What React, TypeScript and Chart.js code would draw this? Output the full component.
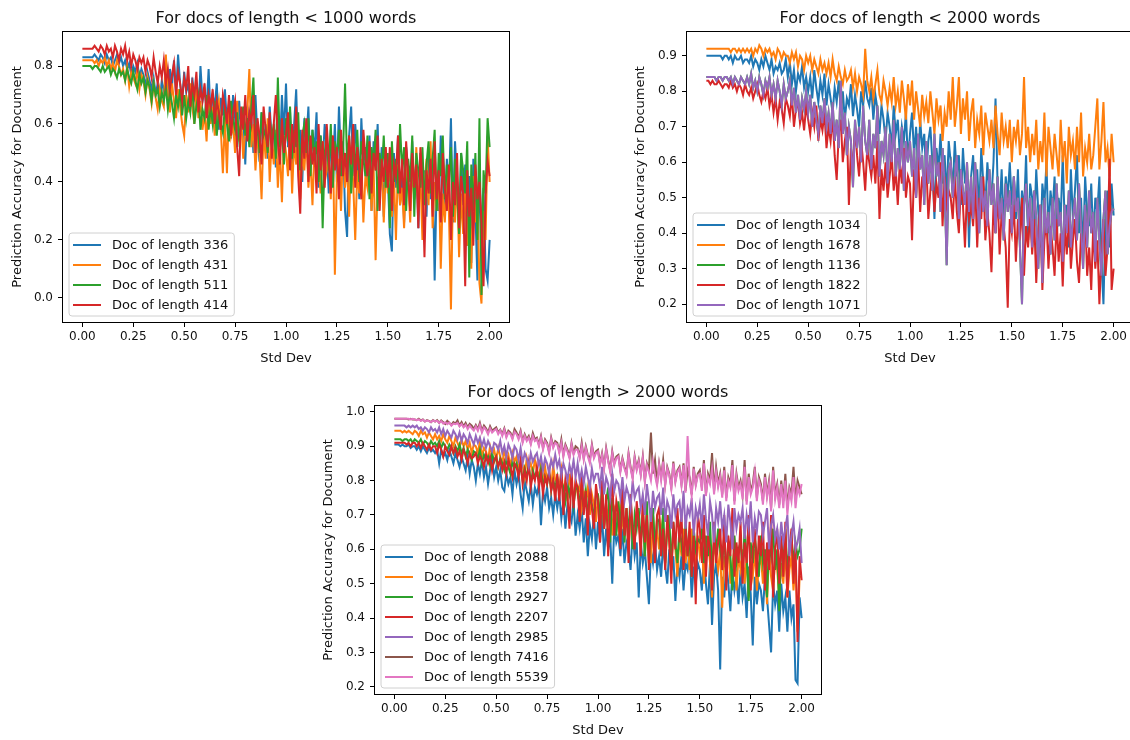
import React, { useEffect, useRef } from "react";
import { Chart, registerables } from "chart.js";

Chart.register(...registerables);

// ---------- data ----------
const stdDev = [
  0.0, 0.01, 0.02, 0.03, 0.04, 0.05, 0.06, 0.07, 0.08, 0.09,
  0.1, 0.11, 0.12, 0.13, 0.14, 0.15, 0.16, 0.17, 0.18, 0.19,
  0.2, 0.21, 0.22, 0.23, 0.24, 0.25, 0.26, 0.27, 0.28, 0.29,
  0.3, 0.31, 0.32, 0.33, 0.34, 0.35, 0.36, 0.37, 0.38, 0.39,
  0.4, 0.41, 0.42, 0.43, 0.44, 0.45, 0.46, 0.47, 0.48, 0.49,
  0.5, 0.51, 0.52, 0.53, 0.54, 0.55, 0.56, 0.57, 0.58, 0.59,
  0.6, 0.61, 0.62, 0.63, 0.64, 0.65, 0.66, 0.67, 0.68, 0.69,
  0.7, 0.71, 0.72, 0.73, 0.74, 0.75, 0.76, 0.77, 0.78, 0.79,
  0.8, 0.81, 0.82, 0.83, 0.84, 0.85, 0.86, 0.87, 0.88, 0.89,
  0.9, 0.91, 0.92, 0.93, 0.94, 0.95, 0.96, 0.97, 0.98, 0.99,
  1.0, 1.01, 1.02, 1.03, 1.04, 1.05, 1.06, 1.07, 1.08, 1.09,
  1.1, 1.11, 1.12, 1.13, 1.14, 1.15, 1.16, 1.17, 1.18, 1.19,
  1.2, 1.21, 1.22, 1.23, 1.24, 1.25, 1.26, 1.27, 1.28, 1.29,
  1.3, 1.31, 1.32, 1.33, 1.34, 1.35, 1.36, 1.37, 1.38, 1.39,
  1.4, 1.41, 1.42, 1.43, 1.44, 1.45, 1.46, 1.47, 1.48, 1.49,
  1.5, 1.51, 1.52, 1.53, 1.54, 1.55, 1.56, 1.57, 1.58, 1.59,
  1.6, 1.61, 1.62, 1.63, 1.64, 1.65, 1.66, 1.67, 1.68, 1.69,
  1.7, 1.71, 1.72, 1.73, 1.74, 1.75, 1.76, 1.77, 1.78, 1.79,
  1.8, 1.81, 1.82, 1.83, 1.84, 1.85, 1.86, 1.87, 1.88, 1.89,
  1.9, 1.91, 1.92, 1.93, 1.94, 1.95, 1.96, 1.97, 1.98, 1.99,
  2.0,
];

const xTicks = [0, 0.25, 0.5, 0.75, 1.0, 1.25, 1.5, 1.75, 2.0];
const yTicks1 = [0, 0.2, 0.4, 0.6, 0.8];
const yTicks2 = [0.2, 0.3, 0.4, 0.5, 0.6, 0.7, 0.8, 0.9];
const yTicks3 = [0.2, 0.3, 0.4, 0.5, 0.6, 0.7, 0.8, 0.9, 1.0];

// chart 1: docs < 1000 words
const acc336 = [
  0.83, 0.83, 0.83, 0.83, 0.83, 0.83, 0.84, 0.83, 0.82, 0.84,
  0.83, 0.81, 0.84, 0.82, 0.83, 0.8, 0.82, 0.84, 0.81, 0.83,
  0.8, 0.82, 0.79, 0.81, 0.77, 0.8, 0.78, 0.81, 0.76, 0.79,
  0.77, 0.73, 0.78, 0.75, 0.72, 0.76, 0.7, 0.74, 0.68, 0.75,
  0.71, 0.76, 0.69, 0.79, 0.73, 0.82, 0.7, 0.84, 0.74, 0.68,
  0.78, 0.71, 0.74, 0.66, 0.76, 0.69, 0.73, 0.64, 0.8, 0.68,
  0.72, 0.65, 0.79, 0.62, 0.7, 0.66, 0.74, 0.58, 0.69, 0.63,
  0.72, 0.6, 0.67, 0.55, 0.7, 0.62, 0.52, 0.68, 0.58, 0.64,
  0.46, 0.66, 0.58, 0.62, 0.5, 0.7, 0.55, 0.47, 0.64, 0.52,
  0.6, 0.48, 0.66, 0.54, 0.58, 0.45, 0.62, 0.5, 0.7, 0.56,
  0.74, 0.52, 0.64, 0.44, 0.6, 0.72, 0.48, 0.58, 0.4, 0.62,
  0.54, 0.66, 0.42, 0.58, 0.5, 0.64, 0.38, 0.56, 0.46, 0.6,
  0.52, 0.36, 0.58, 0.44, 0.6, 0.4, 0.66, 0.48, 0.54, 0.3,
  0.21, 0.56, 0.66, 0.42, 0.6, 0.5, 0.34, 0.62, 0.46, 0.52,
  0.4, 0.56, 0.3, 0.54, 0.44, 0.6, 0.36, 0.52, 0.28, 0.48,
  0.42, 0.22, 0.16, 0.5, 0.38, 0.56, 0.32, 0.46, 0.26, 0.52,
  0.44, 0.3, 0.54, 0.36, 0.48, 0.24, 0.5, 0.38, 0.44, 0.28,
  0.52, 0.34, 0.46, 0.06, 0.4, 0.3, 0.56, 0.42, 0.28, 0.48,
  0.36, 0.62, 0.26, 0.54, 0.4, 0.22, 0.5, 0.32, 0.46, 0.18,
  0.42, 0.12, 0.48, 0.3, 0.06, 0.44, 0.2, 0.38, 0.1, 0.06,
  0.2,
];
const acc431 = [
  0.82, 0.82, 0.82, 0.82, 0.82, 0.82, 0.81, 0.82, 0.8, 0.82,
  0.81, 0.83, 0.8, 0.82, 0.79, 0.81, 0.78, 0.82, 0.8, 0.77,
  0.79, 0.75, 0.8, 0.73, 0.78, 0.76, 0.74, 0.79, 0.72, 0.77,
  0.75, 0.7, 0.76, 0.72, 0.67, 0.74, 0.69, 0.65, 0.72, 0.68,
  0.66, 0.84, 0.7, 0.64, 0.74, 0.68, 0.62, 0.72, 0.66, 0.6,
  0.56, 0.7, 0.64, 0.74, 0.66, 0.6, 0.72, 0.62, 0.68, 0.58,
  0.64, 0.54, 0.7, 0.6, 0.66, 0.56, 0.63, 0.68, 0.58, 0.43,
  0.62, 0.43, 0.66, 0.56, 0.6, 0.5, 0.68, 0.54, 0.62, 0.48,
  0.58, 0.64, 0.79, 0.52, 0.6, 0.44, 0.56, 0.5, 0.34, 0.58,
  0.48, 0.62, 0.4, 0.55, 0.46, 0.58, 0.38, 0.52, 0.33, 0.56,
  0.5, 0.42, 0.6, 0.36, 0.54, 0.46, 0.58, 0.34, 0.5, 0.44,
  0.56, 0.38, 0.48, 0.32, 0.52, 0.42, 0.46, 0.36, 0.54, 0.4,
  0.44, 0.5, 0.34, 0.56, 0.08, 0.42, 0.48, 0.3, 0.52, 0.38,
  0.46, 0.28, 0.5, 0.4, 0.2, 0.44, 0.36, 0.48, 0.26, 0.42,
  0.38, 0.52, 0.3, 0.46, 0.13, 0.4, 0.34, 0.48, 0.26, 0.44,
  0.36, 0.48, 0.28, 0.42, 0.2, 0.46, 0.32, 0.38, 0.24, 0.44,
  0.4, 0.26, 0.46, 0.34, 0.52, 0.3, 0.42, 0.2, 0.38, 0.48,
  0.32, 0.54, 0.24, 0.4, 0.3, 0.44, 0.1, 0.36, 0.26, 0.42,
  0.3, -0.04, 0.38, 0.26, 0.42, 0.14, 0.36, 0.22, 0.4, 0.18,
  0.34, 0.1, 0.42, 0.26, 0.36, 0.05, -0.02, 0.3, 0.2, 0.56,
  0.4,
];
const acc511 = [
  0.8, 0.8, 0.8, 0.8, 0.8, 0.79, 0.8, 0.8, 0.79, 0.78,
  0.8, 0.78, 0.79, 0.8, 0.77, 0.79, 0.78, 0.76, 0.79, 0.77,
  0.78, 0.75, 0.79, 0.76, 0.74, 0.78, 0.75, 0.72, 0.77, 0.74,
  0.76, 0.71, 0.75, 0.73, 0.68, 0.74, 0.7, 0.72, 0.66, 0.71,
  0.68, 0.73, 0.65, 0.71, 0.67, 0.62, 0.7, 0.66, 0.72, 0.63,
  0.7, 0.62, 0.68, 0.64, 0.74, 0.6, 0.66, 0.7, 0.58, 0.65,
  0.62, 0.7, 0.58, 0.66, 0.6, 0.68, 0.56, 0.64, 0.6, 0.57,
  0.66, 0.6, 0.54, 0.68, 0.62, 0.58, 0.64, 0.55, 0.6, 0.66,
  0.56, 0.62, 0.52, 0.66, 0.76, 0.54, 0.6, 0.5, 0.64, 0.56,
  0.58, 0.5, 0.62, 0.55, 0.6, 0.48, 0.76, 0.52, 0.58, 0.46,
  0.62, 0.54, 0.66, 0.48, 0.58, 0.52, 0.64, 0.44, 0.56, 0.6,
  0.5, 0.62, 0.42, 0.58, 0.48, 0.54, 0.4, 0.56, 0.24, 0.5,
  0.56, 0.44, 0.6, 0.38, 0.54, 0.48, 0.58, 0.42, 0.5, 0.74,
  0.46, 0.56, 0.36, 0.52, 0.44, 0.58, 0.4, 0.54, 0.48, 0.42,
  0.56, 0.34, 0.52, 0.46, 0.58, 0.3, 0.5, 0.42, 0.56, 0.38,
  0.5, 0.24, 0.54, 0.4, 0.48, 0.36, 0.6, 0.44, 0.52, 0.3,
  0.48, 0.4, 0.56, 0.28, 0.5, 0.44, 0.38, 0.52, 0.32, 0.46,
  0.54, 0.36, 0.48, 0.58, 0.3, 0.5, 0.42, 0.56, 0.34, 0.46,
  0.4, 0.52, 0.28, 0.48, 0.38, 0.22, 0.5, 0.44, 0.36, 0.54,
  0.07, 0.46, 0.3, 0.5, 0.2, 0.62, 0.01, 0.44, 0.36, 0.62,
  0.52,
];
const acc414 = [
  0.86, 0.86, 0.86, 0.86, 0.86, 0.86, 0.87, 0.86, 0.85, 0.87,
  0.86, 0.84, 0.87, 0.85, 0.86, 0.83, 0.87, 0.85, 0.82, 0.86,
  0.84, 0.87, 0.82, 0.85, 0.8, 0.84, 0.82, 0.79, 0.83, 0.81,
  0.83, 0.78, 0.82, 0.8, 0.76, 0.83, 0.78, 0.74, 0.8, 0.76,
  0.82, 0.74, 0.79, 0.72, 0.77, 0.81, 0.7, 0.78, 0.74, 0.68,
  0.76, 0.72, 0.8, 0.66, 0.74, 0.7, 0.78, 0.64, 0.72, 0.68,
  0.74, 0.62, 0.7, 0.66, 0.72, 0.6, 0.68, 0.64, 0.58, 0.7,
  0.66, 0.6, 0.7, 0.56, 0.64, 0.68, 0.52, 0.42, 0.66, 0.58,
  0.7, 0.54, 0.64, 0.6, 0.7, 0.5, 0.62, 0.56, 0.46, 0.66,
  0.58, 0.52, 0.64, 0.48, 0.6, 0.7, 0.54, 0.46, 0.62, 0.5,
  0.56, 0.64, 0.44, 0.6, 0.5, 0.66, 0.42, 0.29, 0.58, 0.48,
  0.62, 0.4, 0.56, 0.46, 0.52, 0.36, 0.6, 0.44, 0.54, 0.38,
  0.6, 0.48, 0.36, 0.56, 0.44, 0.52, 0.34, 0.58, 0.42, 0.5,
  0.4, 0.56, 0.46, 0.6, 0.38, 0.52, 0.44, 0.34, 0.58, 0.48,
  0.42, 0.54, 0.36, 0.5, 0.44, 0.56, 0.3, 0.48, 0.4, 0.52,
  0.38, 0.52, 0.3, 0.46, 0.42, 0.56, 0.36, 0.48, 0.32, 0.54,
  0.42, 0.3, 0.5, 0.38, 0.46, 0.24, 0.52, 0.4, 0.14, 0.44,
  0.36, 0.48, 0.28, 0.54, 0.34, 0.44, 0.26, 0.5, 0.38, 0.3,
  0.46, 0.2, 0.4, 0.32, 0.5, 0.24, 0.42, 0.36, 0.04, 0.44,
  0.28, 0.38, 0.18, 0.46, 0.34, 0.4, 0.26, 0.04, 0.36, 0.47,
  0.42,
];

// chart 2: docs < 2000 words
const acc1034 = [
  0.9, 0.9, 0.9, 0.9, 0.9, 0.9, 0.9, 0.9, 0.89, 0.9,
  0.9, 0.89, 0.9, 0.88, 0.9, 0.89, 0.89, 0.9, 0.88, 0.89,
  0.89, 0.88, 0.9, 0.87, 0.89, 0.88, 0.86, 0.89, 0.87, 0.9,
  0.88, 0.86, 0.89, 0.85, 0.87, 0.86, 0.88, 0.85, 0.86, 0.89,
  0.84, 0.88, 0.82, 0.86, 0.8, 0.85, 0.83, 0.87, 0.81, 0.84,
  0.8, 0.84, 0.78, 0.86, 0.81, 0.77, 0.83, 0.79, 0.85, 0.76,
  0.82, 0.78, 0.74, 0.81, 0.77, 0.83, 0.75, 0.8, 0.72, 0.78,
  0.76, 0.82, 0.73, 0.79, 0.75, 0.7, 0.8, 0.76, 0.83, 0.78,
  0.76, 0.81, 0.72, 0.79, 0.75, 0.68, 0.76, 0.72, 0.66, 0.74,
  0.7, 0.64, 0.76, 0.68, 0.72, 0.62, 0.7, 0.66, 0.74, 0.6,
  0.68, 0.74, 0.62, 0.7, 0.58, 0.72, 0.64, 0.68, 0.56, 0.66,
  0.7, 0.6, 0.44, 0.64, 0.58, 0.68, 0.54, 0.62, 0.5, 0.66,
  0.6, 0.52, 0.66, 0.56, 0.62, 0.48, 0.64, 0.54, 0.58, 0.36,
  0.56, 0.62, 0.5, 0.58, 0.46, 0.64, 0.54, 0.48, 0.6, 0.52,
  0.5, 0.6, 0.78, 0.54, 0.46, 0.58, 0.42, 0.56, 0.5, 0.6,
  0.48, 0.56, 0.44, 0.58, 0.4, 0.52, 0.46, 0.62, 0.38, 0.54,
  0.5, 0.42, 0.58, 0.46, 0.36, 0.54, 0.48, 0.6, 0.4, 0.52,
  0.46, 0.56, 0.38, 0.5, 0.44, 0.62, 0.42, 0.48, 0.36, 0.58,
  0.44, 0.52, 0.62, 0.4, 0.5, 0.34, 0.56, 0.46, 0.42, 0.54,
  0.38, 0.5, 0.46, 0.56, 0.32, 0.2, 0.44, 0.52, 0.36, 0.54,
  0.45,
];
const acc1678 = [
  0.92, 0.92, 0.92, 0.92, 0.92, 0.92, 0.92, 0.92, 0.92, 0.92,
  0.92, 0.92, 0.91, 0.92, 0.92, 0.91, 0.92, 0.91, 0.92, 0.91,
  0.92, 0.91, 0.92, 0.9, 0.92, 0.91, 0.93, 0.92, 0.9, 0.92,
  0.91, 0.92, 0.9, 0.91, 0.89, 0.92, 0.91, 0.89, 0.91, 0.9,
  0.9, 0.88, 0.91, 0.89, 0.91, 0.87, 0.9, 0.89, 0.86, 0.9,
  0.88, 0.9, 0.86, 0.89, 0.87, 0.85, 0.89, 0.86, 0.88, 0.85,
  0.88, 0.84, 0.89, 0.85, 0.83, 0.87, 0.84, 0.82, 0.86, 0.83,
  0.84, 0.86, 0.81, 0.85, 0.8, 0.84, 0.82, 0.79, 0.92, 0.83,
  0.8, 0.84, 0.78, 0.82, 0.86, 0.79, 0.77, 0.83, 0.8, 0.76,
  0.81, 0.77, 0.84, 0.76, 0.8, 0.74, 0.83, 0.78, 0.72, 0.82,
  0.76, 0.83, 0.72, 0.8, 0.75, 0.7, 0.79, 0.73, 0.77, 0.71,
  0.8, 0.74, 0.68, 0.78, 0.72, 0.76, 0.66, 0.74, 0.7, 0.8,
  0.72, 0.84, 0.7, 0.76, 0.84, 0.68, 0.78, 0.72, 0.8, 0.66,
  0.74, 0.78, 0.64, 0.72, 0.68, 0.76, 0.62, 0.74, 0.7, 0.66,
  0.72, 0.64, 0.76, 0.68, 0.62, 0.74, 0.66, 0.7, 0.64, 0.72,
  0.6, 0.7, 0.66, 0.72, 0.62, 0.68, 0.84, 0.64, 0.7, 0.6,
  0.68, 0.62, 0.72, 0.58, 0.66, 0.6, 0.74, 0.56, 0.7, 0.64,
  0.58, 0.68, 0.62, 0.56, 0.72, 0.6, 0.66, 0.54, 0.7, 0.62,
  0.66, 0.58, 0.7, 0.6, 0.74, 0.56, 0.64, 0.6, 0.68, 0.58,
  0.62, 0.7, 0.78, 0.58, 0.66, 0.77, 0.6, 0.64, 0.56, 0.68,
  0.6,
];
const acc1822 = [
  0.83, 0.83, 0.82, 0.83, 0.82, 0.82, 0.83, 0.82, 0.81, 0.82,
  0.82, 0.81, 0.83, 0.81, 0.82, 0.8, 0.82, 0.81, 0.79, 0.82,
  0.8, 0.79, 0.81, 0.78, 0.8, 0.82, 0.79, 0.77, 0.8, 0.78,
  0.81, 0.76, 0.79, 0.74, 0.78, 0.72, 0.77, 0.75, 0.71, 0.78,
  0.76, 0.73, 0.79, 0.7, 0.75, 0.77, 0.71, 0.74, 0.69, 0.76,
  0.72, 0.68, 0.74, 0.7, 0.76, 0.66, 0.72, 0.69, 0.74, 0.64,
  0.7, 0.66, 0.73, 0.62, 0.55, 0.68, 0.72, 0.6, 0.66, 0.7,
  0.48, 0.64, 0.58, 0.7, 0.62, 0.56, 0.66, 0.6, 0.52, 0.64,
  0.6, 0.56, 0.62, 0.54, 0.66, 0.44, 0.58, 0.52, 0.6, 0.5,
  0.56, 0.62, 0.52, 0.58, 0.48, 0.6, 0.54, 0.64, 0.5, 0.56,
  0.54, 0.38, 0.58, 0.5, 0.62, 0.46, 0.56, 0.52, 0.6, 0.44,
  0.52, 0.58, 0.46, 0.54, 0.5, 0.6, 0.42, 0.56, 0.48, 0.52,
  0.5, 0.44, 0.56, 0.46, 0.4, 0.54, 0.48, 0.36, 0.52, 0.44,
  0.48, 0.42, 0.54, 0.36, 0.5, 0.44, 0.56, 0.38, 0.46, 0.4,
  0.29, 0.48, 0.4, 0.52, 0.34, 0.46, 0.42, 0.36, 0.19, 0.44,
  0.4, 0.48, 0.32, 0.44, 0.38, 0.5, 0.28, 0.42, 0.36, 0.46,
  0.34, 0.44, 0.26, 0.4, 0.48, 0.24, 0.38, 0.44, 0.3, 0.42,
  0.36, 0.28, 0.44, 0.32, 0.4, 0.25, 0.42, 0.34, 0.46, 0.3,
  0.38, 0.44, 0.32, 0.26, 0.4, 0.34, 0.46, 0.28, 0.36, 0.24,
  0.42, 0.3, 0.38, 0.2, 0.34, 0.44, 0.28, 0.36, 0.61, 0.24,
  0.3,
];
const acc1071 = [
  0.84, 0.84, 0.84, 0.84, 0.84, 0.83, 0.84, 0.84, 0.83, 0.84,
  0.84, 0.83, 0.84, 0.82, 0.84, 0.83, 0.82, 0.84, 0.83, 0.82,
  0.84, 0.82, 0.85, 0.81, 0.83, 0.8, 0.84, 0.82, 0.79, 0.83,
  0.81, 0.84, 0.79, 0.82, 0.78, 0.83, 0.8, 0.76, 0.82, 0.78,
  0.8, 0.83, 0.76, 0.81, 0.74, 0.79, 0.72, 0.78, 0.75, 0.8,
  0.74, 0.79, 0.7, 0.77, 0.72, 0.68, 0.76, 0.71, 0.78, 0.7,
  0.74, 0.68, 0.77, 0.66, 0.72, 0.64, 0.83, 0.68, 0.74, 0.62,
  0.7, 0.66, 0.53, 0.72, 0.64, 0.7, 0.6, 0.76, 0.66, 0.62,
  0.72, 0.58, 0.68, 0.64, 0.76, 0.56, 0.66, 0.62, 0.7, 0.54,
  0.68, 0.6, 0.72, 0.56, 0.64, 0.58, 0.7, 0.52, 0.66, 0.6,
  0.66, 0.56, 0.64, 0.5, 0.68, 0.58, 0.62, 0.48, 0.66, 0.54,
  0.62, 0.52, 0.68, 0.56, 0.6, 0.46, 0.64, 0.54, 0.31, 0.58,
  0.6, 0.5, 0.56, 0.62, 0.44, 0.58, 0.52, 0.48, 0.6, 0.46,
  0.56, 0.44, 0.6, 0.5, 0.4, 0.56, 0.46, 0.52, 0.42, 0.58,
  0.48, 0.54, 0.4, 0.56, 0.44, 0.5, 0.38, 0.54, 0.46, 0.52,
  0.4, 0.56, 0.46, 0.5, 0.36, 0.2, 0.48, 0.54, 0.42, 0.5,
  0.36, 0.52, 0.44, 0.3, 0.48, 0.26, 0.5, 0.4, 0.46, 0.34,
  0.5, 0.38, 0.54, 0.42, 0.46, 0.32, 0.48, 0.4, 0.52, 0.36,
  0.44, 0.5, 0.38, 0.54, 0.42, 0.3, 0.48, 0.36, 0.52, 0.4,
  0.46, 0.32, 0.5, 0.38, 0.28, 0.44, 0.52, 0.34, 0.42, 0.46,
  0.47,
];
// the 1136-word document's line lies entirely beneath the 1071 one in the picture
const acc1136 = acc1071;

// chart 3: docs > 2000 words
const acc2088 = [
  0.905, 0.905, 0.905, 0.9, 0.905, 0.9, 0.9, 0.905, 0.895, 0.9,
  0.9, 0.89, 0.9, 0.885, 0.9, 0.89, 0.88, 0.895, 0.885, 0.89,
  0.88, 0.89, 0.85, 0.89, 0.87, 0.88, 0.86, 0.89, 0.87, 0.85,
  0.88, 0.86, 0.84, 0.87, 0.85, 0.83, 0.87, 0.82, 0.86, 0.84,
  0.8, 0.85, 0.82, 0.86, 0.81, 0.84, 0.79, 0.83, 0.86, 0.81,
  0.84, 0.8, 0.83, 0.78, 0.77, 0.82, 0.79, 0.81, 0.76, 0.83,
  0.79, 0.82, 0.76, 0.72, 0.8, 0.77, 0.74, 0.79, 0.73, 0.78,
  0.76, 0.79, 0.67, 0.77, 0.74, 0.78, 0.72, 0.75, 0.7, 0.76,
  0.72, 0.76, 0.69, 0.74, 0.66, 0.73, 0.7, 0.68, 0.74, 0.64,
  0.7, 0.66, 0.72, 0.62, 0.69, 0.58, 0.67, 0.63, 0.7, 0.6,
  0.68, 0.62, 0.7, 0.58, 0.66, 0.6, 0.64, 0.5, 0.67, 0.62,
  0.64, 0.58, 0.66, 0.56, 0.62, 0.6, 0.54, 0.65, 0.58, 0.62,
  0.46, 0.62, 0.56, 0.6, 0.52, 0.44, 0.6, 0.56, 0.62, 0.54,
  0.58, 0.52, 0.62, 0.55, 0.5, 0.6, 0.54, 0.58, 0.45, 0.56,
  0.52, 0.58, 0.48, 0.56, 0.54, 0.6, 0.46, 0.55, 0.5, 0.56,
  0.54, 0.48, 0.58, 0.5, 0.44, 0.56, 0.38, 0.52, 0.56, 0.48,
  0.25, 0.52, 0.46, 0.56, 0.5, 0.42, 0.54, 0.48, 0.52, 0.44,
  0.54, 0.46, 0.5, 0.4, 0.55, 0.47, 0.32, 0.52, 0.44, 0.5,
  0.48, 0.42, 0.52, 0.46, 0.38, 0.3, 0.5, 0.44, 0.48, 0.36,
  0.5, 0.42, 0.46, 0.36, 0.48, 0.4, 0.44, 0.22, 0.21, 0.46,
  0.4,
];
const acc2358 = [
  0.945, 0.945, 0.945, 0.945, 0.94, 0.945, 0.94, 0.945, 0.94, 0.935,
  0.945, 0.94, 0.93, 0.945, 0.935, 0.94, 0.925, 0.94, 0.93, 0.92,
  0.935, 0.92, 0.93, 0.915, 0.935, 0.92, 0.91, 0.93, 0.915, 0.9,
  0.925, 0.91, 0.895, 0.92, 0.9, 0.915, 0.89, 0.91, 0.88, 0.905,
  0.9, 0.88, 0.915, 0.87, 0.895, 0.885, 0.86, 0.9, 0.875, 0.89,
  0.86, 0.895, 0.87, 0.85, 0.89, 0.86, 0.875, 0.84, 0.88, 0.855,
  0.87, 0.83, 0.86, 0.845, 0.81, 0.865, 0.835, 0.85, 0.82, 0.86,
  0.83, 0.81, 0.85, 0.79, 0.84, 0.8, 0.82, 0.78, 0.845, 0.8,
  0.81, 0.78, 0.83, 0.76, 0.8, 0.74, 0.82, 0.77, 0.75, 0.8,
  0.76, 0.79, 0.72, 0.77, 0.74, 0.78, 0.7, 0.76, 0.73, 0.68,
  0.76, 0.7, 0.74, 0.66, 0.73, 0.69, 0.76, 0.64, 0.72, 0.7,
  0.66, 0.73, 0.68, 0.64, 0.72, 0.6, 0.7, 0.66, 0.62, 0.7,
  0.68, 0.62, 0.72, 0.58, 0.66, 0.64, 0.56, 0.7, 0.62, 0.66,
  0.6, 0.67, 0.63, 0.56, 0.68, 0.62, 0.54, 0.66, 0.6, 0.52,
  0.64, 0.58, 0.66, 0.56, 0.62, 0.54, 0.66, 0.6, 0.56, 0.64,
  0.58, 0.62, 0.5, 0.6, 0.64, 0.56, 0.46, 0.62, 0.58, 0.54,
  0.6, 0.43, 0.58, 0.54, 0.62, 0.5, 0.56, 0.6, 0.48, 0.58,
  0.54, 0.6, 0.5, 0.58, 0.46, 0.56, 0.52, 0.6, 0.48, 0.55,
  0.58, 0.5, 0.56, 0.44, 0.6, 0.52, 0.48, 0.58, 0.54, 0.46,
  0.56, 0.5, 0.6, 0.46, 0.54, 0.58, 0.48, 0.56, 0.36, 0.52,
  0.52,
];
const acc2927 = [
  0.92, 0.92, 0.92, 0.92, 0.915, 0.92, 0.92, 0.915, 0.92, 0.91,
  0.92, 0.915, 0.91, 0.92, 0.905, 0.915, 0.91, 0.9, 0.915, 0.905,
  0.91, 0.9, 0.915, 0.895, 0.91, 0.9, 0.89, 0.905, 0.895, 0.88,
  0.9, 0.885, 0.905, 0.88, 0.895, 0.87, 0.89, 0.875, 0.86, 0.885,
  0.88, 0.865, 0.89, 0.85, 0.875, 0.86, 0.87, 0.845, 0.88, 0.855,
  0.87, 0.84, 0.865, 0.85, 0.83, 0.86, 0.84, 0.82, 0.855, 0.835,
  0.85, 0.82, 0.84, 0.8, 0.835, 0.81, 0.845, 0.79, 0.83, 0.81,
  0.82, 0.8, 0.835, 0.78, 0.81, 0.79, 0.825, 0.77, 0.8, 0.78,
  0.81, 0.76, 0.8, 0.78, 0.74, 0.79, 0.76, 0.8, 0.73, 0.775,
  0.78, 0.74, 0.76, 0.72, 0.77, 0.7, 0.75, 0.73, 0.69, 0.76,
  0.76, 0.68, 0.8, 0.66, 0.74, 0.78, 0.62, 0.75, 0.7, 0.64,
  0.74, 0.66, 0.78, 0.62, 0.72, 0.64, 0.76, 0.6, 0.7, 0.66,
  0.72, 0.62, 0.7, 0.58, 0.74, 0.56, 0.68, 0.72, 0.6, 0.69,
  0.68, 0.58, 0.72, 0.55, 0.66, 0.7, 0.54, 0.68, 0.62, 0.56,
  0.66, 0.62, 0.55, 0.68, 0.58, 0.64, 0.52, 0.66, 0.6, 0.63,
  0.62, 0.66, 0.56, 0.64, 0.58, 0.68, 0.54, 0.62, 0.6, 0.66,
  0.6, 0.56, 0.64, 0.52, 0.62, 0.58, 0.48, 0.64, 0.56, 0.6,
  0.62, 0.54, 0.66, 0.58, 0.45, 0.62, 0.56, 0.64, 0.58, 0.52,
  0.64, 0.56, 0.6, 0.46, 0.62, 0.58, 0.66, 0.54, 0.6, 0.42,
  0.62, 0.58, 0.66, 0.54, 0.6, 0.64, 0.56, 0.62, 0.58, 0.6,
  0.66,
];
const acc2207 = [
  0.91, 0.91, 0.91, 0.91, 0.91, 0.91, 0.905, 0.91, 0.9, 0.91,
  0.91, 0.9, 0.91, 0.895, 0.91, 0.9, 0.89, 0.905, 0.89, 0.9,
  0.9, 0.88, 0.905, 0.89, 0.87, 0.9, 0.885, 0.875, 0.9, 0.88,
  0.895, 0.87, 0.885, 0.86, 0.89, 0.875, 0.85, 0.88, 0.865, 0.87,
  0.88, 0.85, 0.87, 0.86, 0.84, 0.875, 0.85, 0.87, 0.83, 0.86,
  0.87, 0.84, 0.86, 0.83, 0.855, 0.82, 0.86, 0.84, 0.81, 0.85,
  0.84, 0.81, 0.86, 0.79, 0.83, 0.8, 0.85, 0.78, 0.82, 0.8,
  0.84, 0.78, 0.82, 0.76, 0.81, 0.79, 0.83, 0.77, 0.8, 0.74,
  0.82, 0.74, 0.84, 0.7, 0.8, 0.76, 0.66, 0.83, 0.72, 0.8,
  0.78, 0.68, 0.82, 0.7, 0.77, 0.64, 0.8, 0.72, 0.66, 0.79,
  0.74, 0.62, 0.8, 0.66, 0.76, 0.58, 0.72, 0.82, 0.64, 0.74,
  0.7, 0.6, 0.78, 0.64, 0.72, 0.56, 0.76, 0.66, 0.6, 0.74,
  0.68, 0.58, 0.74, 0.62, 0.7, 0.54, 0.72, 0.64, 0.56, 0.7,
  0.72, 0.58, 0.66, 0.54, 0.7, 0.62, 0.5, 0.68, 0.6, 0.72,
  0.62, 0.7, 0.54, 0.66, 0.58, 0.68, 0.52, 0.64, 0.44, 0.7,
  0.66, 0.56, 0.7, 0.52, 0.64, 0.6, 0.48, 0.68, 0.56, 0.62,
  0.66, 0.54, 0.7, 0.48, 0.64, 0.58, 0.72, 0.52, 0.62, 0.56,
  0.68, 0.5, 0.62, 0.56, 0.7, 0.48, 0.6, 0.66, 0.52, 0.64,
  0.58, 0.68, 0.48, 0.62, 0.54, 0.7, 0.46, 0.6, 0.66, 0.5,
  0.64, 0.52, 0.68, 0.46, 0.6, 0.66, 0.5, 0.62, 0.33, 0.58,
  0.51,
];
const acc2985 = [
  0.96, 0.96, 0.96, 0.96, 0.96, 0.96, 0.955, 0.96, 0.955, 0.96,
  0.955, 0.96, 0.95, 0.955, 0.945, 0.955, 0.95, 0.94, 0.955, 0.945,
  0.95, 0.94, 0.955, 0.935, 0.95, 0.93, 0.945, 0.935, 0.925, 0.945,
  0.935, 0.92, 0.94, 0.915, 0.935, 0.925, 0.91, 0.935, 0.92, 0.905,
  0.93, 0.91, 0.925, 0.9, 0.92, 0.895, 0.915, 0.9, 0.885, 0.91,
  0.905, 0.89, 0.915, 0.88, 0.9, 0.87, 0.905, 0.89, 0.865, 0.9,
  0.89, 0.86, 0.895, 0.85, 0.88, 0.865, 0.84, 0.88, 0.855, 0.87,
  0.88, 0.845, 0.87, 0.83, 0.865, 0.85, 0.82, 0.86, 0.84, 0.875,
  0.84, 0.86, 0.815, 0.85, 0.83, 0.8, 0.845, 0.82, 0.86, 0.81,
  0.85, 0.8, 0.83, 0.79, 0.84, 0.81, 0.78, 0.835, 0.8, 0.82,
  0.82, 0.78, 0.84, 0.76, 0.81, 0.79, 0.75, 0.82, 0.77, 0.8,
  0.79, 0.75, 0.81, 0.74, 0.78, 0.76, 0.72, 0.8, 0.75, 0.77,
  0.78, 0.72, 0.76, 0.7, 0.79, 0.74, 0.68, 0.77, 0.72, 0.75,
  0.76, 0.7, 0.78, 0.68, 0.74, 0.72, 0.66, 0.76, 0.7, 0.73,
  0.74, 0.68, 0.77, 0.66, 0.72, 0.7, 0.75, 0.64, 0.72, 0.69,
  0.73, 0.66, 0.76, 0.69, 0.64, 0.74, 0.7, 0.62, 0.72, 0.68,
  0.74, 0.66, 0.7, 0.62, 0.73, 0.68, 0.6, 0.72, 0.66, 0.7,
  0.68, 0.72, 0.63, 0.7, 0.66, 0.74, 0.62, 0.69, 0.65, 0.71,
  0.7, 0.64, 0.68, 0.72, 0.6, 0.67, 0.7, 0.63, 0.66, 0.6,
  0.68, 0.62, 0.66, 0.7, 0.58, 0.64, 0.68, 0.6, 0.62, 0.66,
  0.56,
];
const acc7416 = [
  0.98, 0.98, 0.98, 0.98, 0.98, 0.98, 0.98, 0.978, 0.98, 0.978,
  0.978, 0.976, 0.98, 0.975, 0.978, 0.972, 0.976, 0.974, 0.97, 0.976,
  0.972, 0.976, 0.968, 0.975, 0.97, 0.965, 0.974, 0.968, 0.962, 0.97,
  0.966, 0.975, 0.96, 0.97, 0.958, 0.968, 0.955, 0.965, 0.96, 0.95,
  0.962, 0.95, 0.968, 0.945, 0.96, 0.952, 0.94, 0.958, 0.945, 0.95,
  0.955, 0.94, 0.948, 0.935, 0.952, 0.93, 0.945, 0.94, 0.925, 0.95,
  0.94, 0.925, 0.945, 0.915, 0.935, 0.92, 0.93, 0.91, 0.938, 0.92,
  0.925, 0.905, 0.93, 0.895, 0.92, 0.91, 0.885, 0.925, 0.9, 0.915,
  0.91, 0.885, 0.92, 0.875, 0.905, 0.89, 0.87, 0.91, 0.88, 0.9,
  0.895, 0.87, 0.91, 0.865, 0.9, 0.875, 0.86, 0.905, 0.87, 0.885,
  0.89, 0.85, 0.88, 0.84, 0.895, 0.86, 0.83, 0.885, 0.85, 0.87,
  0.875, 0.83, 0.865, 0.84, 0.82, 0.88, 0.84, 0.81, 0.87, 0.835,
  0.86, 0.82, 0.87, 0.8, 0.85, 0.83, 0.94, 0.82, 0.86, 0.79,
  0.85, 0.81, 0.86, 0.79, 0.84, 0.82, 0.78, 0.855, 0.8, 0.83,
  0.84, 0.79, 0.85, 0.77, 0.83, 0.81, 0.76, 0.84, 0.79, 0.82,
  0.83, 0.78, 0.86, 0.76, 0.82, 0.8, 0.88, 0.77, 0.84, 0.79,
  0.82, 0.76, 0.84, 0.75, 0.81, 0.79, 0.86, 0.74, 0.82, 0.78,
  0.8, 0.76, 0.86, 0.74, 0.82, 0.77, 0.79, 0.84, 0.75, 0.81,
  0.79, 0.74, 0.82, 0.76, 0.8, 0.72, 0.84, 0.76, 0.79, 0.73,
  0.8, 0.74, 0.82, 0.72, 0.78, 0.76, 0.84, 0.74, 0.8, 0.78,
  0.76,
];
const acc5539 = [
  0.98, 0.98, 0.98, 0.98, 0.98, 0.98, 0.98, 0.98, 0.978, 0.98,
  0.978, 0.976, 0.978, 0.974, 0.977, 0.972, 0.975, 0.973, 0.97, 0.975,
  0.972, 0.974, 0.968, 0.973, 0.966, 0.97, 0.964, 0.969, 0.96, 0.966,
  0.964, 0.968, 0.958, 0.965, 0.955, 0.962, 0.95, 0.96, 0.952, 0.946,
  0.958, 0.945, 0.962, 0.94, 0.955, 0.948, 0.935, 0.952, 0.94, 0.946,
  0.95, 0.935, 0.946, 0.93, 0.948, 0.925, 0.94, 0.935, 0.92, 0.942,
  0.935, 0.92, 0.94, 0.91, 0.93, 0.915, 0.925, 0.905, 0.93, 0.915,
  0.92, 0.9, 0.925, 0.89, 0.915, 0.905, 0.88, 0.92, 0.895, 0.91,
  0.905, 0.88, 0.91, 0.87, 0.9, 0.885, 0.865, 0.905, 0.875, 0.89,
  0.89, 0.865, 0.9, 0.86, 0.895, 0.87, 0.85, 0.9, 0.865, 0.88,
  0.885, 0.845, 0.875, 0.835, 0.89, 0.855, 0.825, 0.88, 0.845, 0.865,
  0.87, 0.825, 0.86, 0.835, 0.815, 0.875, 0.835, 0.805, 0.865, 0.83,
  0.855, 0.815, 0.865, 0.795, 0.845, 0.825, 0.8, 0.855, 0.815, 0.785,
  0.845, 0.8, 0.855, 0.785, 0.835, 0.815, 0.775, 0.85, 0.795, 0.825,
  0.835, 0.785, 0.845, 0.765, 0.93, 0.8, 0.755, 0.835, 0.785, 0.815,
  0.82, 0.77, 0.85, 0.755, 0.81, 0.79, 0.835, 0.76, 0.825, 0.78,
  0.81, 0.75, 0.83, 0.74, 0.8, 0.78, 0.845, 0.73, 0.81, 0.77,
  0.79, 0.745, 0.84, 0.73, 0.81, 0.76, 0.78, 0.825, 0.74, 0.8,
  0.78, 0.73, 0.81, 0.75, 0.79, 0.71, 0.83, 0.745, 0.78, 0.72,
  0.79, 0.72, 0.8, 0.7, 0.77, 0.74, 0.81, 0.72, 0.78, 0.76,
  0.79,
];

// ---------- styling ----------
const TAB = ["#1f77b4", "#ff7f0e", "#2ca02c", "#d62728", "#9467bd", "#8c564b", "#e377c2"];
const FONT = "'DejaVu Sans', 'Liberation Sans', sans-serif";
const TEXT = "#111";

type Spec = {
  left: number; top: number; width: number; height: number;
  area: { left: number; right: number; top: number; bottom: number };
  yMin: number; yMax: number; yTicks: number[];
  title: string;
  ylabelX: number;
  series: { label: string; values: number[]; color: string }[];
};

const YAXIS_W = 45;
const XAXIS_H = 30;

function decorPlugin(spec: Spec) {
  return {
    id: "decor",
    afterDraw(chart: any) {
      const ctx = chart.ctx as CanvasRenderingContext2D;
      const a = chart.chartArea;
      ctx.save();
      // frame (all four spines)
      ctx.strokeStyle = "#000";
      ctx.lineWidth = 1;
      ctx.strokeRect(Math.round(a.left) + 0.5, Math.round(a.top) + 0.5, Math.round(a.right - a.left) - 1, Math.round(a.bottom - a.top) - 1);
      // title
      ctx.fillStyle = TEXT;
      ctx.font = `16px ${FONT}`;
      ctx.textAlign = "center";
      ctx.textBaseline = "alphabetic";
      ctx.fillText(spec.title, (a.left + a.right) / 2, a.top - 8);
      // x label
      ctx.font = `13px ${FONT}`;
      ctx.fillText("Std Dev", (a.left + a.right) / 2, a.bottom + 39);
      // y label
      ctx.save();
      ctx.translate(spec.ylabelX, (a.top + a.bottom) / 2);
      ctx.rotate(-Math.PI / 2);
      ctx.textBaseline = "middle";
      ctx.fillText("Prediction Accuracy for Document", 0, 0);
      ctx.restore();
      // legend
      const items = chart.data.datasets;
      ctx.font = `13px ${FONT}`;
      let maxW = 0;
      items.forEach((d: any) => { maxW = Math.max(maxW, ctx.measureText(d.label).width); });
      const rowH = 20;
      const boxL = a.left + 7;
      const boxH = items.length * rowH + 3;
      const boxB = a.bottom - 7;
      const boxT = boxB - boxH;
      const boxW = 43 + maxW + 6;
      ctx.beginPath();
      const r = 3;
      ctx.moveTo(boxL + r, boxT);
      ctx.arcTo(boxL + boxW, boxT, boxL + boxW, boxB, r);
      ctx.arcTo(boxL + boxW, boxB, boxL, boxB, r);
      ctx.arcTo(boxL, boxB, boxL, boxT, r);
      ctx.arcTo(boxL, boxT, boxL + boxW, boxT, r);
      ctx.closePath();
      ctx.fillStyle = "rgba(255,255,255,0.8)";
      ctx.fill();
      ctx.strokeStyle = "#d0d0d0";
      ctx.lineWidth = 1;
      ctx.stroke();
      items.forEach((d: any, i: number) => {
        const cy = boxT + 12 + i * rowH;
        ctx.strokeStyle = d.borderColor;
        ctx.lineWidth = 2;
        ctx.beginPath();
        ctx.moveTo(boxL + 4, cy);
        ctx.lineTo(boxL + 32, cy);
        ctx.stroke();
        ctx.fillStyle = TEXT;
        ctx.textAlign = "left";
        ctx.textBaseline = "middle";
        ctx.fillText(d.label, boxL + 43, cy + 1);
      });
      ctx.restore();
    },
  };
}

function makeConfig(spec: Spec): any {
  const pad = {
    left: spec.area.left - YAXIS_W,
    top: spec.area.top,
    right: spec.width - spec.area.right,
    bottom: spec.height - spec.area.bottom - XAXIS_H,
  };
  const n = spec.series.length;
  return {
    type: "line",
    data: {
      datasets: spec.series.map((s, k) => ({
        label: s.label,
        data: stdDev.map((x, i) => ({ x, y: s.values[i] })),
        borderColor: s.color,
        backgroundColor: s.color,
        borderWidth: 2,
        pointRadius: 0,
        tension: 0,
        fill: false,
        order: n - k, // later series are drawn on top, as in the reference
      })),
    },
    options: {
      responsive: false,
      animation: false,
      events: [],
      layout: { padding: pad },
      plugins: { legend: { display: false }, title: { display: false }, tooltip: { enabled: false } },
      scales: {
        x: {
          type: "linear",
          min: -0.1,
          max: 2.1,
          afterBuildTicks: (sc: any) => { sc.ticks = xTicks.map((v) => ({ value: v })); },
          afterFit: (sc: any) => { sc.height = XAXIS_H; },
          ticks: {
            callback: (v: any) => Number(v).toFixed(2),
            font: { family: FONT, size: 12 },
            color: TEXT,
            padding: 3,
            maxRotation: 0,
            autoSkip: false,
          },
          grid: { drawOnChartArea: false, drawTicks: true, tickLength: 4, tickColor: "#000", tickWidth: 1 },
          border: { display: false },
        },
        y: {
          type: "linear",
          min: spec.yMin,
          max: spec.yMax,
          afterBuildTicks: (sc: any) => { sc.ticks = spec.yTicks.map((v) => ({ value: v })); },
          afterFit: (sc: any) => { sc.width = YAXIS_W; },
          ticks: {
            callback: (v: any) => Number(v).toFixed(1),
            font: { family: FONT, size: 12 },
            color: TEXT,
            padding: 5,
            autoSkip: false,
          },
          grid: { drawOnChartArea: false, drawTicks: true, tickLength: 4, tickColor: "#000", tickWidth: 1 },
          border: { display: false },
        },
      },
    },
    plugins: [decorPlugin(spec)],
  };
}

const specs: Spec[] = [
  {
    left: 0, top: 0, width: 560, height: 370,
    area: { left: 62, right: 510, top: 31, bottom: 323 },
    yMin: -0.087, yMax: 0.921, yTicks: yTicks1,
    title: "For docs of length < 1000 words",
    ylabelX: 18,
    series: [
      { label: "Doc of length 336", values: acc336, color: TAB[0] },
      { label: "Doc of length 431", values: acc431, color: TAB[1] },
      { label: "Doc of length 511", values: acc511, color: TAB[2] },
      { label: "Doc of length 414", values: acc414, color: TAB[3] },
    ],
  },
  {
    left: 630, top: 0, width: 560, height: 370,
    area: { left: 56, right: 504, top: 31, bottom: 323 },
    yMin: 0.147, yMax: 0.97, yTicks: yTicks2,
    title: "For docs of length < 2000 words",
    ylabelX: 11,
    series: [
      { label: "Doc of length 1034", values: acc1034, color: TAB[0] },
      { label: "Doc of length 1678", values: acc1678, color: TAB[1] },
      { label: "Doc of length 1136", values: acc1136, color: TAB[2] },
      { label: "Doc of length 1822", values: acc1822, color: TAB[3] },
      { label: "Doc of length 1071", values: acc1071, color: TAB[4] },
    ],
  },
  {
    left: 310, top: 370, width: 560, height: 370,
    area: { left: 64, right: 512, top: 35, bottom: 325 },
    yMin: 0.176, yMax: 1.02, yTicks: yTicks3,
    title: "For docs of length > 2000 words",
    ylabelX: 19,
    series: [
      { label: "Doc of length 2088", values: acc2088, color: TAB[0] },
      { label: "Doc of length 2358", values: acc2358, color: TAB[1] },
      { label: "Doc of length 2927", values: acc2927, color: TAB[2] },
      { label: "Doc of length 2207", values: acc2207, color: TAB[3] },
      { label: "Doc of length 2985", values: acc2985, color: TAB[4] },
      { label: "Doc of length 7416", values: acc7416, color: TAB[5] },
      { label: "Doc of length 5539", values: acc5539, color: TAB[6] },
    ],
  },
];

function Panel({ spec }: { spec: Spec }) {
  const ref = useRef<HTMLCanvasElement | null>(null);
  useEffect(() => {
    if (!ref.current) return;
    const chart = new Chart(ref.current, makeConfig(spec));
    return () => chart.destroy();
  }, [spec]);
  return (
    <canvas
      ref={ref}
      width={spec.width}
      height={spec.height}
      style={{ position: "absolute", left: spec.left, top: spec.top, width: spec.width, height: spec.height, display: "block" }}
    />
  );
}

export default function App() {
  return (
    <div style={{ position: "absolute", left: 0, top: 0, width: 1130, height: 740, overflow: "hidden", background: "#fff" }}>
      {specs.map((s, i) => (
        <Panel key={i} spec={s} />
      ))}
    </div>
  );
}
